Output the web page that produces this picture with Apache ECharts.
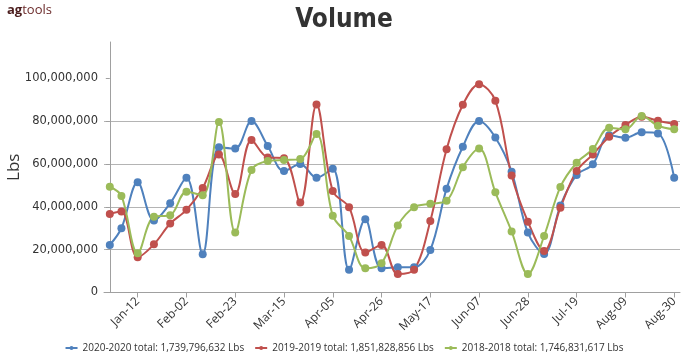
<!DOCTYPE html>
<html>
<head>
<meta charset="utf-8">
<script src="https://cdn.jsdelivr.net/npm/echarts@6/dist/echarts.min.js"></script>
<style>
html,body{margin:0;padding:0;background:#fff;}
#chart{width:688px;height:360px;}
</style>
</head>
<body>
<div id="chart"></div>
<script>
// Week-ending dates (x values)
const weeks = ['2019-12-31','2020-01-05','2020-01-12','2020-01-19','2020-01-26','2020-02-02','2020-02-09','2020-02-16','2020-02-23','2020-03-01','2020-03-08','2020-03-15','2020-03-22','2020-03-29','2020-04-05','2020-04-12','2020-04-19','2020-04-26','2020-05-03','2020-05-10','2020-05-17','2020-05-24','2020-05-31','2020-06-07','2020-06-14','2020-06-21','2020-06-28','2020-07-05','2020-07-12','2020-07-19','2020-07-26','2020-08-02','2020-08-09','2020-08-16','2020-08-23','2020-08-30'];

// Tick labels on the x axis
const tickLabels = ['Jan-12','Feb-02','Feb-23','Mar-15','Apr-05','Apr-26','May-17','Jun-07','Jun-28','Jul-19','Aug-09','Aug-30'];

// Y tick values
const yTicks = [0, 20000000, 40000000, 60000000, 80000000, 100000000];

const seriesNames = [
  '2020-2020 total: 1,739,796,632 Lbs',
  '2019-2019 total: 1,851,828,856 Lbs',
  '2018-2018 total: 1,746,831,617 Lbs'
];

// Lbs per week
const volume2020 = [22200000,30000000,51500000,33600000,41700000,53600000,17900000,67800000,67200000,80100000,68400000,56700000,60000000,53600000,57800000,10600000,34200000,11300000,11800000,11800000,19900000,48500000,68100000,80100000,72400000,56400000,28000000,18000000,40600000,54900000,59900000,73500000,72300000,74800000,74300000,53600000];
const volume2019 = [36700000,37800000,16500000,22500000,32200000,38600000,48800000,64500000,46000000,71200000,63100000,62700000,42000000,87800000,47400000,39800000,18700000,22200000,8600000,10600000,33400000,66900000,87700000,97300000,89600000,54600000,33100000,19400000,39600000,56700000,64500000,72800000,78200000,82100000,80200000,78700000];
const volume2018 = [49400000,45100000,18300000,35400000,36100000,47100000,45400000,79600000,28000000,57200000,61400000,61900000,62300000,74000000,35900000,26400000,11300000,13700000,31300000,39800000,41400000,42800000,58500000,67200000,46800000,28500000,8600000,26400000,49300000,60600000,67000000,77000000,76200000,82400000,77900000,76200000];

const colors = ['#4F81BD', '#C0504D', '#9BBB59'];

const MS_DAY = 86400000;
const base = Date.UTC(2019, 11, 31);
function dayOfIso(iso) {
  const p = iso.split('-').map(Number);
  return (Date.UTC(p[0], p[1] - 1, p[2]) - base) / MS_DAY;
}
const MONTHS = {Jan:0,Feb:1,Mar:2,Apr:3,May:4,Jun:5,Jul:6,Aug:7,Sep:8,Oct:9,Nov:10,Dec:11};
function dayOfLabel(lbl) {
  const p = lbl.split('-');
  return (Date.UTC(2020, MONTHS[p[0]], Number(p[1])) - base) / MS_DAY;
}
const xDays = weeks.map(dayOfIso);
const tickDays = tickLabels.map(dayOfLabel);

function pairs(vals) { return vals.map((v, i) => [xDays[i], v]); }

const FONT = '"Open Sans", "Noto Sans", sans-serif';

const chart = echarts.init(document.getElementById('chart'), null, {renderer: 'canvas'});
const mk = (name, vals, color) => ({
  name: name,
  type: 'line',
  data: pairs(vals),
  smooth: 0.35,
  symbol: 'circle',
  symbolSize: 8,
  showSymbol: true,
  lineStyle: {width: 2, color: color},
  itemStyle: {color: color},
  emphasis: {disabled: true},
  animation: false
});

chart.setOption({
  animation: false,
  color: colors,
  title: {
    text: 'Volume',
    left: 'center',
    top: 2,
    textStyle: {fontFamily: '"DejaVu Sans Condensed", sans-serif', fontWeight: 'bold', fontSize: 26, color: '#333333'}
  },
  graphic: [{
    type: 'text',
    left: 7,
    top: 4,
    style: {
      text: '{a|ag}{b|tools}',
      rich: {
        a: {fontFamily: FONT, fontWeight: 'bold', fontSize: 13, fill: '#4a1c1c'},
        b: {fontFamily: FONT, fontSize: 13, fill: '#6b2b2b'}
      }
    }
  }],
  legend: {
    bottom: 2,
    left: 'center',
    itemWidth: 12,
    itemHeight: 5,
    itemGap: 10,
    textStyle: {fontFamily: FONT, fontSize: 10, color: '#333333'},
    data: seriesNames
  },
  grid: {left: 104, right: 8, top: 42, bottom: 67.5, containLabel: false, outerBoundsMode: 'none'},
  xAxis: {
    type: 'value',
    min: -2.5,
    max: 245.5,
    splitLine: {show: false},
    axisLine: {lineStyle: {color: '#a0a0a0'}},
    axisTick: {show: true, length: 5, customValues: tickDays, lineStyle: {color: '#a0a0a0'}},
    axisLabel: {
      customValues: tickDays,
      rotate: 45,
      margin: 7,
      fontFamily: FONT,
      fontSize: 12,
      color: '#333333',
      formatter: function (v) {
        const i = tickDays.indexOf(v);
        return i >= 0 ? tickLabels[i] : '';
      }
    }
  },
  yAxis: {
    type: 'value',
    min: 0,
    max: 117000000,
    name: 'Lbs',
    nameLocation: 'middle',
    nameGap: 81,
    nameMoveOverlap: false,
    nameTextStyle: {fontFamily: FONT, fontSize: 17, color: '#333333'},
    axisLine: {show: true, lineStyle: {color: '#a0a0a0'}},
    axisTick: {show: true, length: 4, customValues: yTicks, lineStyle: {color: '#a0a0a0'}},
    axisLabel: {
      customValues: yTicks,
      margin: 6,
      fontFamily: '"DejaVu Sans", sans-serif',
      fontSize: 11.5,
      color: '#333333',
      formatter: function (v) { return v.toLocaleString('en-US'); }
    },
    splitLine: {show: true, showMaxLine: false, lineStyle: {color: '#b4b4b4', width: 1}}
  },
  series: [
    mk(seriesNames[0], volume2020, colors[0]),
    mk(seriesNames[1], volume2019, colors[1]),
    mk(seriesNames[2], volume2018, colors[2])
  ]
});
</script>
</body>
</html>
